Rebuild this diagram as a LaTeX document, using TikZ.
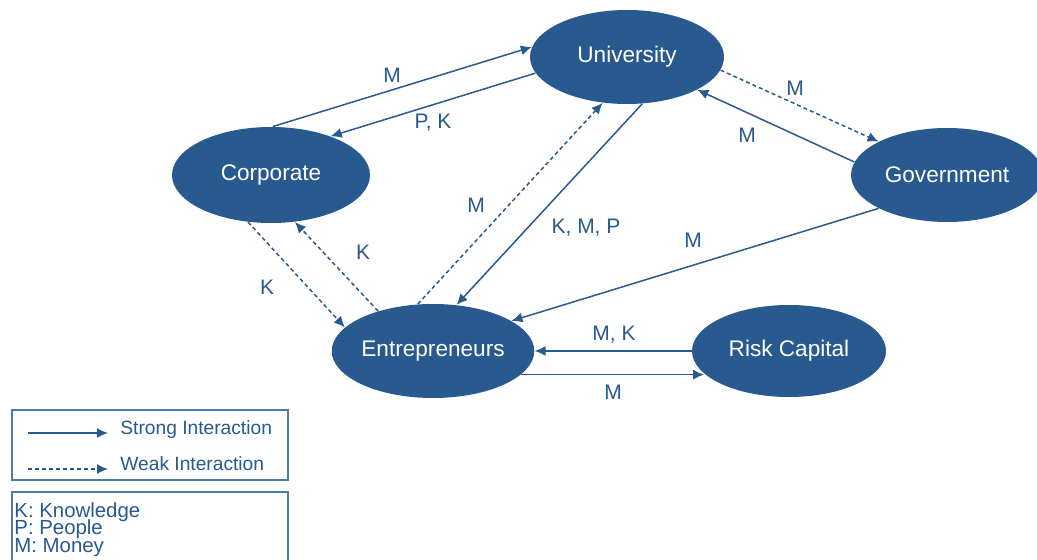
\documentclass[tikz,border=0pt]{standalone}
\usepackage{fontspec}
\setmainfont{Liberation Sans}
\usetikzlibrary{shapes.geometric,arrows.meta}
\definecolor{nodeblue}{RGB}{40,89,143}
\definecolor{boxblue}{RGB}{80,120,172}
\begin{document}
\begin{tikzpicture}[x=0.5pt,y=-0.5pt,
  actor/.style={ellipse,fill=nodeblue,text=white,inner sep=0pt,font=\fontsize{11.3}{13}\selectfont},
  strong/.style={draw=nodeblue,line width=0.75pt,-{Latex[length=5.5pt,width=5pt]}},
  weak/.style={strong,dash pattern=on 2pt off 1.5pt},
  lbl/.style={text=nodeblue,font=\fontsize{10.5}{12}\selectfont,inner sep=0pt},
  legtxt/.style={text=nodeblue,font=\fontsize{9.6}{11}\selectfont,inner sep=0pt,anchor=west},
  keytxt/.style={text=nodeblue,font=\fontsize{10.2}{8.8}\selectfont\setlength{\lineskiplimit}{-10pt},inner sep=0pt,anchor=north west,align=left},
  legbox/.style={draw=boxblue,line width=0.6pt}]
\useasboundingbox (0,0) rectangle (1037,560);
\clip (0,0) rectangle (1037,560);
% actors
\node[actor,minimum width=97pt,minimum height=47pt] (uni) at (627,57) {University};
\node[actor,minimum width=99pt,minimum height=48pt] (corp) at (271,175) {Corporate};
\node[actor,minimum width=96pt,minimum height=47pt] (gov) at (947,175) {Government};
\node[actor,minimum width=97pt,minimum height=47pt] (ent) at (433,351) {Entrepreneurs};
\node[actor,minimum width=97pt,minimum height=46pt] (risk) at (789,351) {Risk Capital};
% connectors
\draw[strong] (corp.88) -- (uni.174);
\draw[strong] (uni.190) -- (corp.33);
\draw[weak] (uni.352) -- (gov.154);
\draw[strong] (gov.172) -- (uni.335);
\draw[strong] (gov.206) -- (ent.21);
\draw[strong] (uni.288) -- (ent.63);
\draw[weak] (ent.108) -- (uni.242);
\draw[weak] (corp.244) -- (ent.165);
\draw[weak] (ent.144) -- (corp.297);
\draw[strong] (risk.west) -- (ent.east);
\draw[strong] (ent.345) -- (ent.345 -| risk.195);
% labels
\node[lbl] (l1) at (392,75) {M};
\node[lbl] (l2) at (433,123) {P, K};
\node[lbl] (l3) at (795,88) {M};
\node[lbl] (l4) at (747,135) {M};
\node[lbl] (l5) at (693,240) {M};
\node[lbl] (l6) at (586,228) {K, M, P};
\node[lbl] (l7) at (476,205) {M};
\node[lbl] (l8) at (363,252) {K};
\node[lbl] (l9) at (267,287) {K};
\node[lbl] (l10) at (614,335) {M, K};
\node[lbl] (l11) at (613,392) {M};
% legend
\draw[legbox] (12,410) rectangle (288,480);
\coordinate (sa) at (28,433);
\coordinate (sb) at (108,433);
\coordinate (wa) at (28,469);
\coordinate (wb) at (108,469);
\draw[strong] (sa) -- (sb);
\draw[weak] (wa) -- (wb);
\node[legtxt] (ls) at (120,430) {Strong Interaction};
\node[legtxt] (lw) at (120,464) {Weak Interaction};
\draw[legbox] (12,492) rectangle (288,575);
\node[keytxt] (key) at (14,502) {K: Knowledge\\P: People\\M: Money};
\end{tikzpicture}
\end{document}
